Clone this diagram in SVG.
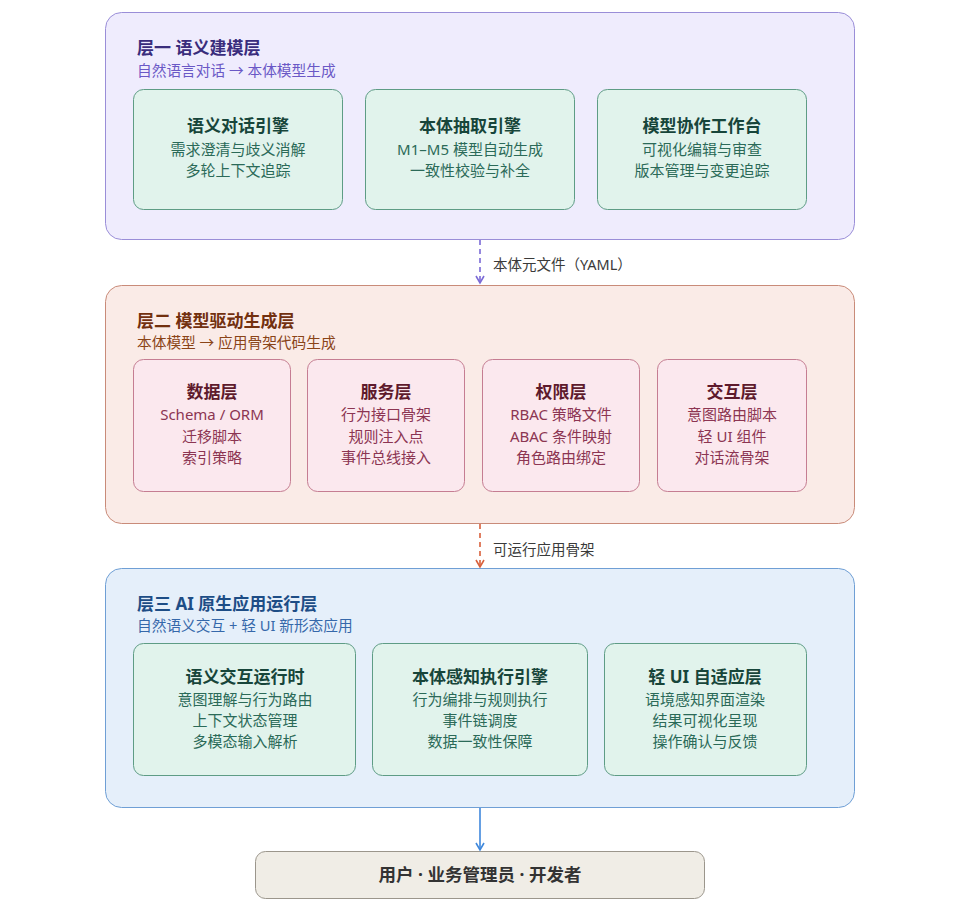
<svg xmlns="http://www.w3.org/2000/svg" width="953" height="910" viewBox="0 0 953 910">
<defs>
<style>
text{font-family:"Noto Sans","Noto Sans CJK SC",sans-serif;}
.lt{font-size:17px;font-weight:bold;}
.ls{font-size:14.7px;}
.ct{font-size:17px;font-weight:bold;text-anchor:middle;}
.cl{font-size:15px;text-anchor:middle;}
.g rect{fill:#e1f3ec;stroke:#5e9c85;stroke-width:1;}
.g .ct{fill:#17453a;}
.g .cl{fill:#2b6a58;}
.p rect{fill:#fbe8ee;stroke:#c57d92;stroke-width:1;}
.p .ct{fill:#5e1a2c;}
.p .cl{fill:#8c3552;}
.lbl{font-size:14.5px;fill:#3a3a3a;}
</style>
<marker id="ap" viewBox="0 0 10 10" refX="8" refY="5" markerWidth="10" markerHeight="10" markerUnits="userSpaceOnUse" orient="auto"><path d="M1,1 L8,5 L1,9" fill="none" stroke="#7b6ad6" stroke-width="1.6"/></marker>
<marker id="ao" viewBox="0 0 10 10" refX="8" refY="5" markerWidth="10" markerHeight="10" markerUnits="userSpaceOnUse" orient="auto"><path d="M1,1 L8,5 L1,9" fill="none" stroke="#d9603b" stroke-width="1.6"/></marker>
<marker id="ab" viewBox="0 0 10 10" refX="8" refY="5" markerWidth="10" markerHeight="10" markerUnits="userSpaceOnUse" orient="auto"><path d="M1,1 L8,5 L1,9" fill="none" stroke="#3f88dc" stroke-width="1.6"/></marker>
</defs>

<g id="layer1">
<rect x="105.5" y="12.5" width="749" height="227" rx="16" fill="#efecfd" stroke="#9a8ed8"/>
<text class="lt" x="137" y="54" fill="#3a2d7c">层一 语义建模层</text>
<text class="ls" x="137" y="76" fill="#6a58c6">自然语言对话 → 本体模型生成</text>
</g>
<g id="n-dialog" class="g">
<rect x="133.5" y="89.5" width="209" height="120" rx="10"/>
<text class="ct" x="238" y="132">语义对话引擎</text>
<text class="cl" x="238" y="155">需求澄清与歧义消解</text>
<text class="cl" x="238" y="176">多轮上下文追踪</text>
</g>
<g id="n-extract" class="g">
<rect x="365.5" y="89.5" width="209" height="120" rx="10"/>
<text class="ct" x="470" y="132">本体抽取引擎</text>
<text class="cl" x="470" y="155">M1–M5 模型自动生成</text>
<text class="cl" x="470" y="176">一致性校验与补全</text>
</g>
<g id="n-workbench" class="g">
<rect x="597.5" y="89.5" width="209" height="120" rx="10"/>
<text class="ct" x="702" y="132">模型协作工作台</text>
<text class="cl" x="702" y="155">可视化编辑与审查</text>
<text class="cl" x="702" y="176">版本管理与变更追踪</text>
</g>

<g id="layer2">
<rect x="105.5" y="285.5" width="749" height="238" rx="16" fill="#faebe7" stroke="#c98b79"/>
<text class="lt" x="137" y="327" fill="#72300f">层二 模型驱动生成层</text>
<text class="ls" x="137" y="348" fill="#8a4418">本体模型 → 应用骨架代码生成</text>
</g>
<g id="n-data" class="p">
<rect x="133.5" y="359.5" width="157" height="132" rx="10"/>
<text class="ct" x="212" y="398">数据层</text>
<text class="cl" x="212" y="420">Schema / ORM</text>
<text class="cl" x="212" y="442">迁移脚本</text>
<text class="cl" x="212" y="463">索引策略</text>
</g>
<g id="n-service" class="p">
<rect x="307.5" y="359.5" width="157" height="132" rx="10"/>
<text class="ct" x="386" y="398">服务层</text>
<text class="cl" x="386" y="420">行为接口骨架</text>
<text class="cl" x="386" y="442">规则注入点</text>
<text class="cl" x="386" y="463">事件总线接入</text>
</g>
<g id="n-auth" class="p">
<rect x="482.5" y="359.5" width="157" height="132" rx="10"/>
<text class="ct" x="561" y="398">权限层</text>
<text class="cl" x="561" y="420">RBAC 策略文件</text>
<text class="cl" x="561" y="442">ABAC 条件映射</text>
<text class="cl" x="561" y="463">角色路由绑定</text>
</g>
<g id="n-interact" class="p">
<rect x="657.5" y="359.5" width="149" height="132" rx="10"/>
<text class="ct" x="732" y="398">交互层</text>
<text class="cl" x="732" y="420">意图路由脚本</text>
<text class="cl" x="732" y="442">轻 UI 组件</text>
<text class="cl" x="732" y="463">对话流骨架</text>
</g>

<g id="layer3">
<rect x="105.5" y="568.5" width="749" height="239" rx="16" fill="#e5effa" stroke="#6f9fd5"/>
<text class="lt" x="137" y="610" fill="#1d4d86">层三 AI 原生应用运行层</text>
<text class="ls" x="137" y="631" fill="#3568aa">自然语义交互 + 轻 UI 新形态应用</text>
</g>
<g id="n-runtime" class="g">
<rect x="133.5" y="643.5" width="222" height="132" rx="10"/>
<text class="ct" x="245" y="683">语义交互运行时</text>
<text class="cl" x="245" y="705">意图理解与行为路由</text>
<text class="cl" x="245" y="726">上下文状态管理</text>
<text class="cl" x="245" y="747">多模态输入解析</text>
</g>
<g id="n-engine" class="g">
<rect x="372.5" y="643.5" width="215" height="132" rx="10"/>
<text class="ct" x="480" y="683">本体感知执行引擎</text>
<text class="cl" x="480" y="705">行为编排与规则执行</text>
<text class="cl" x="480" y="726">事件链调度</text>
<text class="cl" x="480" y="747">数据一致性保障</text>
</g>
<g id="n-lightui" class="g">
<rect x="604.5" y="643.5" width="202" height="132" rx="10"/>
<text class="ct" x="705" y="683">轻 UI 自适应层</text>
<text class="cl" x="705" y="705">语境感知界面渲染</text>
<text class="cl" x="705" y="726">结果可视化呈现</text>
<text class="cl" x="705" y="747">操作确认与反馈</text>
</g>

<g id="n-users">
<rect x="255.5" y="851.5" width="449" height="47" rx="10" fill="#f0ede6" stroke="#9b968c"/>
<text x="480" y="881" font-size="17.5" font-weight="bold" text-anchor="middle" fill="#333">用户 · 业务管理员 · 开发者</text>
</g>

<g id="connectors" fill="none" stroke-width="1.6">
<line x1="480" y1="240" x2="480" y2="283" stroke="#7b6ad6" stroke-dasharray="5,4" marker-end="url(#ap)"/>
<text class="lbl" x="493" y="270">本体元文件（YAML）</text>
<line x1="480" y1="524" x2="480" y2="567" stroke="#d9603b" stroke-dasharray="5,4" marker-end="url(#ao)"/>
<text class="lbl" x="493" y="555">可运行应用骨架</text>
<line x1="480" y1="808" x2="480" y2="850" stroke="#3f88dc" marker-end="url(#ab)"/>
</g>
</svg>
